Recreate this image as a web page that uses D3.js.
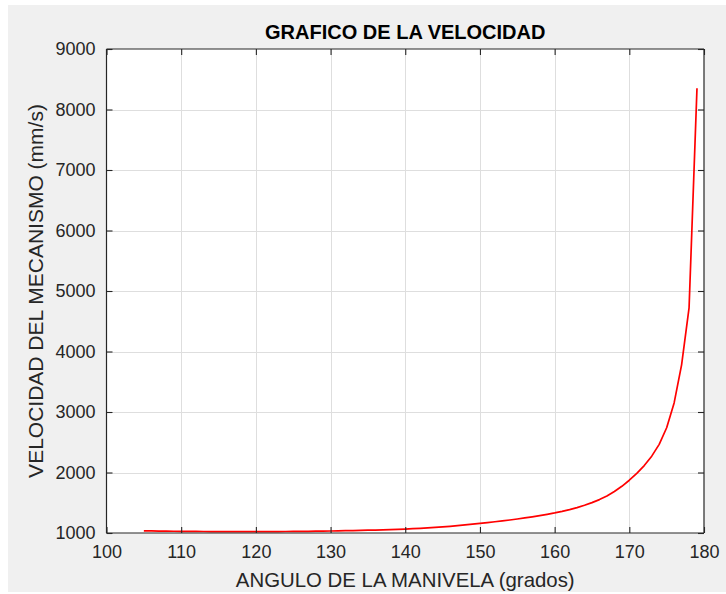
<!DOCTYPE html>
<html>
<head>
<meta charset="utf-8">
<script src="https://cdn.jsdelivr.net/npm/d3@7"></script>
<style>
  html, body { margin: 0; padding: 0; background: #ffffff; }
  svg { display: block; font-family: "Liberation Sans", Arial, Helvetica, sans-serif; }
</style>
</head>
<body>
<svg id="chart" width="726" height="594"></svg>
<script>
// Crank angle (degrees) and mechanism velocity (mm/s)
const angulo = [
  105, 106, 107, 108, 109, 110, 111, 112, 113, 114, 115, 116, 117, 118, 119,
  120, 121, 122, 123, 124, 125, 126, 127, 128, 129, 130, 131, 132, 133, 134,
  135, 136, 137, 138, 139, 140, 141, 142, 143, 144, 145, 146, 147, 148, 149,
  150, 151, 152, 153, 154, 155, 156, 157, 158, 159, 160, 161, 162, 163, 164,
  165, 166, 167, 168, 169, 170, 171, 172, 173, 174, 175, 176, 177, 178, 179.06
];
const velocidad = [
  1036, 1034, 1032, 1030, 1029, 1028, 1027, 1026, 1025, 1024, 1024, 1023, 1023, 1023, 1023,
  1023, 1023, 1024, 1024, 1025, 1026, 1027, 1028, 1030, 1031, 1033, 1035, 1038, 1040, 1043,
  1046, 1049, 1053, 1056, 1060, 1065, 1071, 1078, 1085, 1093, 1101, 1111, 1122, 1134, 1146,
  1159, 1172, 1186, 1200, 1215, 1231, 1249, 1268, 1288, 1309, 1332, 1358, 1387, 1420, 1458,
  1502, 1552, 1610, 1685, 1772, 1872, 1985, 2115, 2270, 2465, 2740, 3150, 3780, 4720, 8350
];

const xTicks = [100, 110, 120, 130, 140, 150, 160, 170, 180];
const yTicks = [1000, 2000, 3000, 4000, 5000, 6000, 7000, 8000, 9000];

const titulo = "GRAFICO DE LA VELOCIDAD";
const etiquetaX = "ANGULO DE LA MANIVELA (grados)";
const etiquetaY = "VELOCIDAD DEL MECANISMO (mm/s)";

const svg = d3.select("#chart");
const W = 726, H = 594;
const plot = { left: 106.5, right: 704, top: 49, bottom: 533 };
const ink = "#262626";
const tickLen = 6;

// figure background
svg.append("rect")
  .attr("x", 8).attr("y", 5)
  .attr("width", W - 8).attr("height", H - 7)
  .attr("fill", "#f0f0f0");

const x = d3.scaleLinear().domain([100, 180]).range([plot.left, plot.right]);
const y = d3.scaleLinear().domain([1000, 9000]).range([plot.bottom, plot.top]);

// axes area
svg.append("rect")
  .attr("x", plot.left).attr("y", plot.top)
  .attr("width", plot.right - plot.left).attr("height", plot.bottom - plot.top)
  .attr("fill", "#ffffff");

// grid
const grid = svg.append("g").attr("stroke", "#dedede").attr("stroke-width", 1);
grid.selectAll("line.gx").data(xTicks.slice(1, -1)).join("line")
  .attr("x1", d => Math.round(x(d)) + 0.5).attr("x2", d => Math.round(x(d)) + 0.5)
  .attr("y1", plot.top).attr("y2", plot.bottom);
grid.selectAll("line.gy").data(yTicks.slice(1, -1)).join("line")
  .attr("y1", d => Math.round(y(d)) + 0.5).attr("y2", d => Math.round(y(d)) + 0.5)
  .attr("x1", plot.left).attr("x2", plot.right);

// velocity curve
const line = d3.line().x((d, i) => x(angulo[i])).y(d => y(d));
svg.append("path")
  .datum(velocidad)
  .attr("d", line)
  .attr("fill", "none")
  .attr("stroke", "#ff0000")
  .attr("stroke-width", 1.7)
  .attr("stroke-linejoin", "round");

// axes with inward ticks
const fontSize = 18;
const axB = d3.axisBottom(x).tickValues(xTicks).tickSize(-tickLen).tickPadding(tickLen + 6).tickFormat(d3.format("d"));
const axT = d3.axisTop(x).tickValues(xTicks).tickSize(-tickLen).tickFormat("");
const axL = d3.axisLeft(y).tickValues(yTicks).tickSize(-tickLen).tickPadding(tickLen + 5).tickFormat(d3.format("d"));
const axR = d3.axisRight(y).tickValues(yTicks).tickSize(-tickLen).tickFormat("");

function style(g) {
  g.select(".domain").attr("stroke", ink).attr("stroke-width", 1.2);
  g.selectAll(".tick line").attr("stroke", ink).attr("stroke-width", 1.1);
  g.selectAll(".tick text").attr("fill", ink).attr("font-size", fontSize)
    .attr("font-family", "Liberation Sans, Arial, sans-serif");
}

svg.append("g").attr("transform", `translate(0,${plot.bottom})`).call(axB).call(style)
  .call(g => g.selectAll(".domain").attr("d", `M${plot.left},0H${plot.right}`));
svg.append("g").attr("transform", `translate(0,${plot.top})`).call(axT).call(style)
  .call(g => g.selectAll(".domain").attr("d", `M${plot.left},0H${plot.right}`));
svg.append("g").attr("transform", `translate(${plot.left},0)`).call(axL).call(style)
  .call(g => g.selectAll(".domain").attr("d", `M0,${plot.top}V${plot.bottom}`));
svg.append("g").attr("transform", `translate(${plot.right},0)`).call(axR).call(style)
  .call(g => g.selectAll(".domain").attr("d", `M0,${plot.top}V${plot.bottom}`));

// title and axis labels
svg.append("text")
  .attr("x", (plot.left + plot.right) / 2).attr("y", 39)
  .attr("text-anchor", "middle")
  .attr("font-size", 20).attr("font-weight", "bold")
  .attr("fill", "#000000")
  .text(titulo);

svg.append("text")
  .attr("x", (plot.left + plot.right) / 2).attr("y", 587)
  .attr("text-anchor", "middle")
  .attr("font-size", 20.4)
  .attr("fill", ink)
  .text(etiquetaX);

svg.append("text")
  .attr("transform", `translate(43,${(plot.top + plot.bottom) / 2}) rotate(-90)`)
  .attr("text-anchor", "middle")
  .attr("font-size", 21)
  .attr("fill", ink)
  .text(etiquetaY);
</script>
</body>
</html>
